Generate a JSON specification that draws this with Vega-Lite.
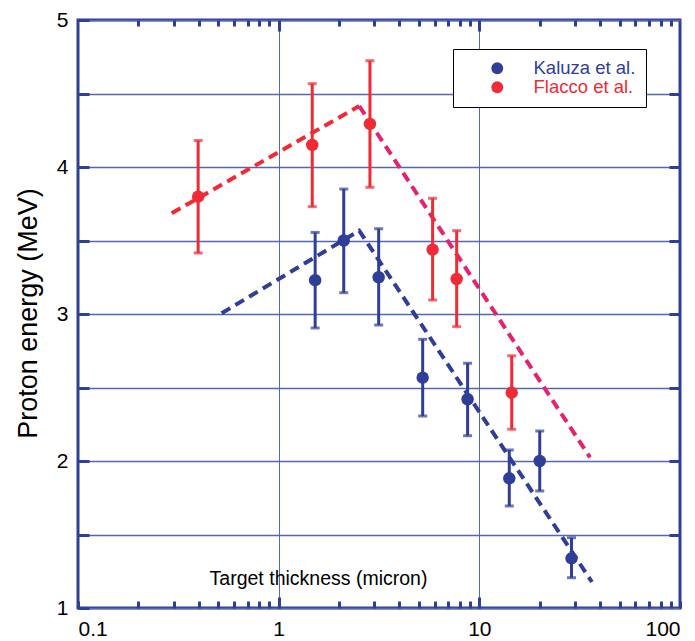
{
  "$schema": "https://vega.github.io/schema/vega-lite/v6.json",
  "autosize": {"type": "none"},
  "padding": {"left": 78, "top": 20, "right": 15, "bottom": 33},
  "width": 602,
  "height": 588,
  "background": "white",
  "config": {
    "view": {"stroke": "#2e3f96", "strokeWidth": 3},
    "axis": {
      "domain": false,
      "ticks": true,
      "tickColor": "#2e3f96",
      "tickWidth": 3,
      "tickOpacity": 1,
      "labelFont": "Liberation Sans",
      "labelFontSize": 21,
      "labelColor": "black",
      "titleFont": "Liberation Sans",
      "titleFontWeight": "normal",
      "titleColor": "black",
      "gridColor": "#5666b3"
    },
    "legend": {"labelFont": "Liberation Sans"}
  },
  "datasets": {
    "fits": [
      {"seg": "Kaluza fit", "x": 0.52, "y": 3.005},
      {"seg": "Kaluza fit", "x": 2.52, "y": 3.567},
      {"seg": "Kaluza fit", "x": 36.4, "y": 1.177},
      {"seg": "Flacco rise", "x": 0.293, "y": 3.685},
      {"seg": "Flacco rise", "x": 2.52, "y": 4.415},
      {"seg": "Flacco fall", "x": 2.52, "y": 4.415},
      {"seg": "Flacco fall", "x": 35.6, "y": 2.025}
    ],
    "measurements": [
      {"series": "Kaluza et al.", "x": 1.52, "y": 3.23, "lo": 2.905, "hi": 3.555},
      {"series": "Kaluza et al.", "x": 2.11, "y": 3.5, "lo": 3.145, "hi": 3.85},
      {"series": "Kaluza et al.", "x": 3.15, "y": 3.25, "lo": 2.925, "hi": 3.58},
      {"series": "Kaluza et al.", "x": 5.22, "y": 2.567, "lo": 2.306, "hi": 2.828},
      {"series": "Kaluza et al.", "x": 8.74, "y": 2.42, "lo": 2.172, "hi": 2.665},
      {"series": "Kaluza et al.", "x": 14.1, "y": 1.882, "lo": 1.694, "hi": 2.075},
      {"series": "Kaluza et al.", "x": 20.0, "y": 2.0, "lo": 1.796, "hi": 2.204},
      {"series": "Kaluza et al.", "x": 28.8, "y": 1.338, "lo": 1.206, "hi": 1.478},
      {"series": "Flacco et al.", "x": 0.397, "y": 3.798, "lo": 3.415, "hi": 4.18},
      {"series": "Flacco et al.", "x": 1.47, "y": 4.15, "lo": 3.73, "hi": 4.567},
      {"series": "Flacco et al.", "x": 2.85, "y": 4.293, "lo": 3.862, "hi": 4.723},
      {"series": "Flacco et al.", "x": 5.85, "y": 3.438, "lo": 3.095, "hi": 3.787},
      {"series": "Flacco et al.", "x": 7.71, "y": 3.238, "lo": 2.914, "hi": 3.567},
      {"series": "Flacco et al.", "x": 14.5, "y": 2.465, "lo": 2.216, "hi": 2.716}
    ]
  },
  "resolve": {
    "scale": {"x": "independent", "y": "independent"},
    "axis": {"x": "independent", "y": "independent"},
    "legend": {"color": "independent"}
  },
  "layer": [
    {
      "data": {"name": "fits"},
      "mark": {"type": "line", "strokeDash": [10, 6], "strokeWidth": 4, "strokeCap": "butt"},
      "encoding": {
        "x": {
          "field": "x", "type": "quantitative",
          "scale": {"type": "log", "domain": [0.1, 100], "nice": false},
          "axis": {
            "orient": "bottom", "offset": -7,
            "values": [0.1, 0.2, 0.3, 0.4, 0.5, 0.6, 0.7, 0.8, 0.9, 1, 2, 3, 4, 5, 6, 7, 8, 9, 10, 20, 30, 40, 50, 60, 70, 80, 90, 100],
            "labelExpr": "datum.value === 0.1 || datum.value === 1 || datum.value === 10 || datum.value === 100 ? format(datum.value, '~g') : ''",
            "ticks": true, "tickSize": 7, "tickColor": "#2e3f96", "tickWidth": 3, "tickOpacity": 1,
            "labelPadding": 10,
            "grid": true, "gridWidth": 1,
            "gridOpacity": {"condition": {"test": "datum.value === 1 || datum.value === 10", "value": 1}, "value": 0},
            "title": "Target thickness (micron)", "titleFontSize": 19.5,
            "titleX": 240, "titleY": -17, "titleAlign": "center", "titleBaseline": "alphabetic"
          }
        },
        "y": {
          "field": "y", "type": "quantitative",
          "scale": {"domain": [1, 5], "nice": false},
          "axis": {
            "orient": "left", "offset": -11, "values": [1, 1.5, 2, 2.5, 3, 3.5, 4, 4.5, 5],
            "labelExpr": "datum.value % 1 === 0 ? format(datum.value, 'd') : ''",
            "ticks": true, "tickSize": 11, "tickColor": "#2e3f96", "tickWidth": 3, "tickOpacity": 1,
            "labelPadding": 10,
            "grid": true, "gridWidth": 1.6,
            "title": "Proton energy (MeV)", "titleFontSize": 27,
            "titleX": -53, "titleY": 293, "titleAngle": -90, "titleAlign": "center", "titleBaseline": "alphabetic"
          }
        },
        "detail": {"field": "seg"},
        "stroke": {
          "field": "seg", "type": "nominal",
          "scale": {"domain": ["Kaluza fit", "Flacco rise", "Flacco fall"], "range": ["#2f3e97", "#ee2b36", "#e5226f"]},
          "legend": null
        }
      }
    },
    {
      "data": {"name": "measurements"},
      "mark": {"type": "rule", "strokeWidth": 3},
      "encoding": {
        "x": {
          "field": "x", "type": "quantitative",
          "scale": {"type": "log", "domain": [0.1, 100], "nice": false},
          "axis": {
            "orient": "top", "offset": -6,
            "values": [0.2, 0.3, 0.4, 0.5, 0.6, 0.7, 0.8, 0.9, 2, 3, 4, 5, 6, 7, 8, 9, 20, 30, 40, 50, 60, 70, 80, 90],
            "labels": false, "grid": false,
            "ticks": true, "tickSize": 6, "tickColor": "#2e3f96", "tickWidth": 3, "tickOpacity": 1,
            "title": null
          }
        },
        "y": {
          "field": "lo", "type": "quantitative",
          "scale": {"domain": [1, 5], "nice": false},
          "axis": {
            "orient": "right", "values": [1.5, 2, 2.5, 3, 3.5, 4, 4.5], "offset": -11,
            "labels": false, "grid": false,
            "ticks": true, "tickSize": 11, "tickColor": "#2e3f96", "tickWidth": 3, "tickOpacity": 1,
            "title": null
          }
        },
        "y2": {"field": "hi"},
        "color": {
          "field": "series", "type": "nominal",
          "scale": {"domain": ["Kaluza et al.", "Flacco et al."], "range": ["#2f3e97", "#ee2b36"]},
          "legend": null
        }
      }
    },
    {
      "data": {"name": "measurements"},
      "mark": {"type": "tick", "orient": "horizontal", "size": 9, "thickness": 3},
      "encoding": {
        "x": {
          "field": "x", "type": "quantitative",
          "scale": {"type": "log", "domain": [0.1, 100], "nice": false},
          "axis": {
            "orient": "top", "values": [1, 10], "offset": -11,
            "labels": false, "grid": false,
            "ticks": true, "tickSize": 11, "tickColor": "#2e3f96", "tickWidth": 3, "tickOpacity": 1,
            "title": null
          }
        },
        "y": {
          "field": "lo", "type": "quantitative",
          "scale": {"domain": [1, 5], "nice": false},
          "axis": null
        },
        "color": {"field": "series", "type": "nominal", "legend": null}
      }
    },
    {
      "data": {"name": "measurements"},
      "mark": {"type": "tick", "orient": "horizontal", "size": 9, "thickness": 3},
      "encoding": {
        "x": {
          "field": "x", "type": "quantitative",
          "scale": {"type": "log", "domain": [0.1, 100], "nice": false},
          "axis": {
            "orient": "bottom", "values": [1, 10], "offset": -11,
            "labels": false, "grid": false,
            "ticks": true, "tickSize": 11, "tickColor": "#2e3f96", "tickWidth": 3, "tickOpacity": 1,
            "title": null
          }
        },
        "y": {
          "field": "hi", "type": "quantitative",
          "scale": {"domain": [1, 5], "nice": false},
          "axis": null
        },
        "color": {"field": "series", "type": "nominal", "legend": null}
      }
    },
    {
      "data": {"name": "measurements"},
      "mark": {"type": "circle", "size": 155, "opacity": 1},
      "encoding": {
        "x": {
          "field": "x", "type": "quantitative",
          "scale": {"type": "log", "domain": [0.1, 100], "nice": false},
          "axis": null
        },
        "y": {
          "field": "y", "type": "quantitative",
          "scale": {"domain": [1, 5], "nice": false},
          "axis": null
        },
        "color": {
          "field": "series", "type": "nominal",
          "legend": {
            "title": null,
            "orient": "none",
            "legendX": 375,
            "legendY": 29,
            "fillColor": "white",
            "strokeColor": "black",
            "padding": 10,
            "symbolType": "circle",
            "symbolSize": 140,
            "symbolStrokeWidth": 0,
            "symbolOffset": 25,
            "labelOffset": 27,
            "labelFontSize": 18.5,
            "rowPadding": 0,
            "labelColor": {"expr": "datum.value === 'Kaluza et al.' ? '#2f3e97' : '#ee2b36'"},
            "encode": {
              "legend": {
                "update": {"strokeWidth": {"value": 2}}
              }
            }
          }
        }
      }
    }
  ]
}
